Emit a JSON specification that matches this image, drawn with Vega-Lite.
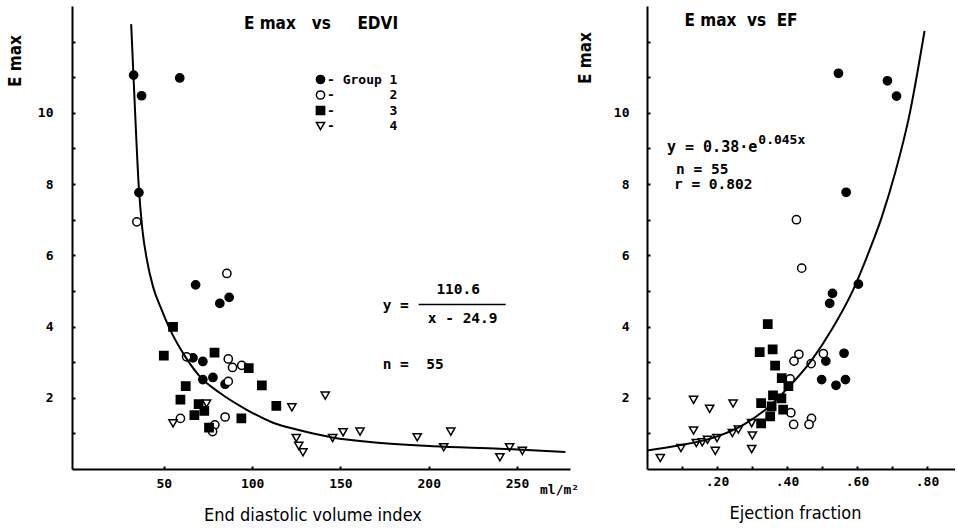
{
  "$schema": "https://vega.github.io/schema/vega-lite/v6.json",
  "background": "white",
  "padding": {"left": 6, "top": 6, "right": 0, "bottom": 0},
  "bounds": "flush",
  "spacing": 77,
  "config": {
    "view": {"stroke": null},
    "axis": {
      "domainColor": "black", "domainWidth": 2, "tickColor": "black", "tickWidth": 2, "tickSize": -3,
      "grid": false, "labelFont": "DejaVu Sans Mono", "labelFontWeight": "bold", "labelFontSize": 13,
      "labelColor": "black", "titleFont": "DejaVu Sans Condensed, sans-serif",
      "titleFontSize": 17, "titleColor": "black", "titleFontWeight": "bold"
    },
    "legend": {
      "orient": "none", "legendX": 242, "legendY": 67, "title": null, "padding": 0,
      "labelFont": "DejaVu Sans Mono", "labelFontWeight": "bold", "labelFontSize": 13, "labelColor": "black",
      "symbolStrokeWidth": 1.5, "symbolSize": 68, "rowPadding": 0.5, "labelOffset": 0
    },
    "text": {"font": "DejaVu Sans Mono", "fontWeight": "bold", "fontSize": 14.5, "color": "black", "align": "left", "baseline": "middle"}
  },
  "datasets": {
    "edvi": [
      {"group": "1", "edvi": 32.9, "emax": 11.06}, {"group": "1", "edvi": 59, "emax": 10.98}, {"group": "1", "edvi": 37.4, "emax": 10.48},
      {"group": "1", "edvi": 35.9, "emax": 7.76}, {"group": "1", "edvi": 68, "emax": 5.17}, {"group": "1", "edvi": 81.7, "emax": 4.65},
      {"group": "1", "edvi": 87, "emax": 4.82}, {"group": "1", "edvi": 66.5, "emax": 3.12}, {"group": "1", "edvi": 72.1, "emax": 3.02},
      {"group": "1", "edvi": 72.1, "emax": 2.51}, {"group": "1", "edvi": 77.8, "emax": 2.57}, {"group": "1", "edvi": 84.7, "emax": 2.38},
      {"group": "2", "edvi": 34.7, "emax": 6.94}, {"group": "2", "edvi": 85.7, "emax": 5.49}, {"group": "2", "edvi": 62.9, "emax": 3.15},
      {"group": "2", "edvi": 86.5, "emax": 3.09}, {"group": "2", "edvi": 88.9, "emax": 2.85}, {"group": "2", "edvi": 94.1, "emax": 2.91},
      {"group": "2", "edvi": 86.5, "emax": 2.46}, {"group": "2", "edvi": 59.4, "emax": 1.42}, {"group": "2", "edvi": 84.7, "emax": 1.46},
      {"group": "2", "edvi": 78.9, "emax": 1.24}, {"group": "2", "edvi": 77.6, "emax": 1.05},
      {"group": "3", "edvi": 55.2, "emax": 3.99}, {"group": "3", "edvi": 50, "emax": 3.18}, {"group": "3", "edvi": 78.7, "emax": 3.27},
      {"group": "3", "edvi": 98.1, "emax": 2.83}, {"group": "3", "edvi": 62.4, "emax": 2.33}, {"group": "3", "edvi": 105.5, "emax": 2.35},
      {"group": "3", "edvi": 59.4, "emax": 1.95}, {"group": "3", "edvi": 113.7, "emax": 1.77}, {"group": "3", "edvi": 69.7, "emax": 1.82},
      {"group": "3", "edvi": 72.9, "emax": 1.63}, {"group": "3", "edvi": 67.3, "emax": 1.51}, {"group": "3", "edvi": 93.9, "emax": 1.42},
      {"group": "3", "edvi": 75.6, "emax": 1.16},
      {"group": "4", "edvi": 55.2, "emax": 1.28}, {"group": "4", "edvi": 74.2, "emax": 1.84}, {"group": "4", "edvi": 122.5, "emax": 1.73},
      {"group": "4", "edvi": 141.4, "emax": 2.06}, {"group": "4", "edvi": 125, "emax": 0.87}, {"group": "4", "edvi": 126.4, "emax": 0.65},
      {"group": "4", "edvi": 128.8, "emax": 0.47}, {"group": "4", "edvi": 145.6, "emax": 0.87}, {"group": "4", "edvi": 151.5, "emax": 1.03},
      {"group": "4", "edvi": 161.1, "emax": 1.05}, {"group": "4", "edvi": 193.5, "emax": 0.89}, {"group": "4", "edvi": 212.5, "emax": 1.05},
      {"group": "4", "edvi": 208.5, "emax": 0.61}, {"group": "4", "edvi": 240.3, "emax": 0.33}, {"group": "4", "edvi": 245.8, "emax": 0.61},
      {"group": "4", "edvi": 253, "emax": 0.51}
    ],
    "ef": [
      {"group": "1", "ef": 0.547, "emax": 11.11}, {"group": "1", "ef": 0.687, "emax": 10.9}, {"group": "1", "ef": 0.713, "emax": 10.47},
      {"group": "1", "ef": 0.569, "emax": 7.77}, {"group": "1", "ef": 0.604, "emax": 5.19}, {"group": "1", "ef": 0.53, "emax": 4.93},
      {"group": "1", "ef": 0.522, "emax": 4.65}, {"group": "1", "ef": 0.563, "emax": 3.25}, {"group": "1", "ef": 0.511, "emax": 3.03},
      {"group": "1", "ef": 0.499, "emax": 2.51}, {"group": "1", "ef": 0.567, "emax": 2.51}, {"group": "1", "ef": 0.54, "emax": 2.35},
      {"group": "2", "ef": 0.427, "emax": 7.0}, {"group": "2", "ef": 0.442, "emax": 5.64}, {"group": "2", "ef": 0.434, "emax": 3.22},
      {"group": "2", "ef": 0.42, "emax": 3.03}, {"group": "2", "ef": 0.504, "emax": 3.24}, {"group": "2", "ef": 0.469, "emax": 2.96},
      {"group": "2", "ef": 0.409, "emax": 2.53}, {"group": "2", "ef": 0.411, "emax": 1.58}, {"group": "2", "ef": 0.419, "emax": 1.25},
      {"group": "2", "ef": 0.47, "emax": 1.42}, {"group": "2", "ef": 0.463, "emax": 1.25},
      {"group": "3", "ef": 0.345, "emax": 4.07}, {"group": "3", "ef": 0.322, "emax": 3.28}, {"group": "3", "ef": 0.359, "emax": 3.36},
      {"group": "3", "ef": 0.366, "emax": 2.9}, {"group": "3", "ef": 0.385, "emax": 2.55}, {"group": "3", "ef": 0.404, "emax": 2.33},
      {"group": "3", "ef": 0.36, "emax": 2.07}, {"group": "3", "ef": 0.384, "emax": 1.98}, {"group": "3", "ef": 0.326, "emax": 1.85},
      {"group": "3", "ef": 0.356, "emax": 1.76}, {"group": "3", "ef": 0.389, "emax": 1.67}, {"group": "3", "ef": 0.352, "emax": 1.48},
      {"group": "3", "ef": 0.326, "emax": 1.28},
      {"group": "4", "ef": 0.038, "emax": 0.31}, {"group": "4", "ef": 0.097, "emax": 0.59}, {"group": "4", "ef": 0.133, "emax": 1.94},
      {"group": "4", "ef": 0.179, "emax": 1.69}, {"group": "4", "ef": 0.246, "emax": 1.84}, {"group": "4", "ef": 0.133, "emax": 1.08},
      {"group": "4", "ef": 0.141, "emax": 0.73}, {"group": "4", "ef": 0.158, "emax": 0.75}, {"group": "4", "ef": 0.173, "emax": 0.82},
      {"group": "4", "ef": 0.2, "emax": 0.87}, {"group": "4", "ef": 0.195, "emax": 0.51}, {"group": "4", "ef": 0.244, "emax": 1.01},
      {"group": "4", "ef": 0.261, "emax": 1.11}, {"group": "4", "ef": 0.299, "emax": 1.29}, {"group": "4", "ef": 0.301, "emax": 0.94},
      {"group": "4", "ef": 0.299, "emax": 0.56}
    ],
    "edviFit": [
      {"edvi": 31.5, "emax": 12.49}, {"edvi": 33.4, "emax": 10.38}, {"edvi": 35.8, "emax": 7.94}, {"edvi": 37.8, "emax": 6.75},
      {"edvi": 40.5, "emax": 5.85}, {"edvi": 44, "emax": 5.1}, {"edvi": 48.5, "emax": 4.5}, {"edvi": 53.2, "emax": 3.95},
      {"edvi": 60.8, "emax": 3.26}, {"edvi": 70.2, "emax": 2.61}, {"edvi": 81.6, "emax": 2.14}, {"edvi": 96.7, "emax": 1.67},
      {"edvi": 111.8, "emax": 1.3}, {"edvi": 125.8, "emax": 1.1}, {"edvi": 146.2, "emax": 0.88}, {"edvi": 166.6, "emax": 0.76},
      {"edvi": 202.4, "emax": 0.64}, {"edvi": 240.2, "emax": 0.57}, {"edvi": 277.4, "emax": 0.48}
    ],
    "efFit": [
      {"ef": 0.0, "emax": 0.52}, {"ef": 0.09, "emax": 0.66}, {"ef": 0.19, "emax": 0.88}, {"ef": 0.28, "emax": 1.27},
      {"ef": 0.34, "emax": 1.68}, {"ef": 0.4, "emax": 2.25}, {"ef": 0.47, "emax": 3.05}, {"ef": 0.53, "emax": 3.95},
      {"ef": 0.59, "emax": 5.05}, {"ef": 0.63, "emax": 6.0}, {"ef": 0.67, "emax": 7.05}, {"ef": 0.71, "emax": 8.35},
      {"ef": 0.75, "emax": 9.95}, {"ef": 0.793, "emax": 12.3}
    ]
  },
  "resolve": {"scale": {"shape": "independent", "fill": "independent", "stroke": "independent"}},
  "hconcat": [
    {
      "width": 498,
      "height": 463,
      "title": {"text": "E max\u00a0\u00a0\u00a0vs\u00a0\u00a0\u00a0\u00a0\u00a0EDVI", "font": "DejaVu Sans Condensed, sans-serif", "fontSize": 17, "fontWeight": "bold", "color": "black", "anchor": "middle", "frame": "group", "baseline": "middle", "offset": 0, "dy": 34.5, "dx": 0},
      "layer": [
        {
          "data": {"name": "edvi"},
          "mark": {"type": "point", "filled": true, "strokeWidth": 1.5, "opacity": 1, "size": 68},
          "encoding": {
            "x": {"field": "edvi", "type": "quantitative", "scale": {"domain": [-2, 280], "nice": false, "zero": false},
              "axis": {"values": [50, 100, 150, 200, 250], "format": "d", "labelPadding": 11, "title": "End diastolic volume index", "titleX": 240.5, "titleY": 46.5, "titleAlign": "center", "titleBaseline": "middle", "titleFontWeight": "normal", "titleFontSize": 18}},
            "y": {"field": "emax", "type": "quantitative", "scale": {"domain": [0, 13], "nice": false, "zero": false},
              "axis": {"values": [1, 2, 3, 4, 5, 6, 7, 8, 9, 10, 11, 12], "labelExpr": "(datum.value % 2 == 0 && datum.value <= 10) ? datum.label : ''", "labelPadding": 22, "title": "E max", "titleX": -57, "titleY": 80.5, "titleAngle": 270, "titleAlign": "left", "titleBaseline": "middle"}},
            "shape": {"field": "group", "type": "nominal", "scale": {"domain": ["1", "2", "3", "4"], "range": ["circle", "circle", "square", "triangle-down"]},
              "legend": {"labelExpr": "datum.label == '1' ? '- Group 1' : '-\u00a0\u00a0\u00a0\u00a0\u00a0\u00a0\u00a0' + datum.label"}},
            "fill": {"field": "group", "type": "nominal", "scale": {"domain": ["1", "2", "3", "4"], "range": ["black", "white", "black", "white"]},
              "legend": {"labelExpr": "datum.label == '1' ? '- Group 1' : '-\u00a0\u00a0\u00a0\u00a0\u00a0\u00a0\u00a0' + datum.label"}},
            "stroke": {"field": "group", "type": "nominal", "scale": {"domain": ["1", "2", "3", "4"], "range": ["black", "black", "black", "black"]},
              "legend": {"labelExpr": "datum.label == '1' ? '- Group 1' : '-\u00a0\u00a0\u00a0\u00a0\u00a0\u00a0\u00a0' + datum.label"}}
          }
        },
        {
          "data": {"name": "edviFit"},
          "mark": {"type": "line", "color": "black", "strokeWidth": 2, "interpolate": "monotone"},
          "encoding": {"x": {"field": "edvi", "type": "quantitative"}, "y": {"field": "emax", "type": "quantitative"}}
        },
        {"data": {"values": [{}]}, "mark": {"type": "text", "text": "y ="}, "encoding": {"x": {"datum": 173.9}, "y": {"datum": 4.57}}},
        {"data": {"values": [{}]}, "mark": {"type": "text", "text": "110.6", "align": "center"}, "encoding": {"x": {"datum": 216.7}, "y": {"datum": 5.02}}},
        {"data": {"values": [{}]}, "mark": {"type": "rule", "color": "black", "strokeWidth": 1.5}, "encoding": {"x": {"datum": 194.3}, "x2": {"datum": 243.6}, "y": {"datum": 4.62}}},
        {"data": {"values": [{}]}, "mark": {"type": "text", "text": "x - 24.9", "align": "center"}, "encoding": {"x": {"datum": 219.2}, "y": {"datum": 4.2}}},
        {"data": {"values": [{}]}, "mark": {"type": "text", "text": "n =\u00a0\u00a055"}, "encoding": {"x": {"datum": 173.9}, "y": {"datum": 2.92}}},
        {"data": {"values": [{}]}, "mark": {"type": "text", "text": "ml/m\u00b2", "fontSize": 13}, "encoding": {"x": {"datum": 263}, "y": {"datum": -0.58}}}
      ]
    },
    {
      "width": 308,
      "height": 463,
      "title": {"text": "E max\u00a0\u00a0vs\u00a0\u00a0EF", "font": "DejaVu Sans Condensed, sans-serif", "fontSize": 17, "fontWeight": "bold", "color": "black", "anchor": "middle", "frame": "group", "baseline": "middle", "offset": 0, "dy": 32, "dx": -60},
      "layer": [
        {
          "data": {"name": "ef"},
          "mark": {"type": "point", "filled": true, "strokeWidth": 1.5, "opacity": 1, "size": 68},
          "encoding": {
            "x": {"field": "ef", "type": "quantitative", "scale": {"domain": [0, 0.88], "nice": false, "zero": false},
              "axis": {"values": [0.1, 0.2, 0.3, 0.4, 0.5, 0.6, 0.7, 0.8], "labelExpr": "(datum.value == 0.2 || datum.value == 0.4 || datum.value == 0.6 || datum.value == 0.8) ? replace(format(datum.value, '.2f'), '0.', '.') : ''", "labelPadding": 9, "title": "Ejection fraction", "titleX": 148, "titleY": 44, "titleAlign": "center", "titleBaseline": "middle", "titleFontWeight": "normal", "titleFontSize": 18}},
            "y": {"field": "emax", "type": "quantitative", "scale": {"domain": [0, 13], "nice": false, "zero": false},
              "axis": {"values": [1, 2, 3, 4, 5, 6, 7, 8, 9, 10, 11, 12], "labelExpr": "(datum.value % 2 == 0 && datum.value <= 10) ? datum.label : ''", "labelPadding": 21, "title": "E max", "titleX": -62, "titleY": 77.5, "titleAngle": 270, "titleAlign": "left", "titleBaseline": "middle"}},
            "shape": {"field": "group", "type": "nominal", "scale": {"domain": ["1", "2", "3", "4"], "range": ["circle", "circle", "square", "triangle-down"]}, "legend": null},
            "fill": {"field": "group", "type": "nominal", "scale": {"domain": ["1", "2", "3", "4"], "range": ["black", "white", "black", "white"]}, "legend": null},
            "stroke": {"field": "group", "type": "nominal", "scale": {"domain": ["1", "2", "3", "4"], "range": ["black", "black", "black", "black"]}, "legend": null}
          }
        },
        {
          "data": {"name": "efFit"},
          "mark": {"type": "line", "color": "black", "strokeWidth": 2, "interpolate": "monotone"},
          "encoding": {"x": {"field": "ef", "type": "quantitative"}, "y": {"field": "emax", "type": "quantitative"}}
        },
        {"data": {"values": [{}]}, "mark": {"type": "text", "text": "y = 0.38\u00b7e", "fontSize": 15}, "encoding": {"x": {"datum": 0.057}, "y": {"datum": 9.03}}},
        {"data": {"values": [{}]}, "mark": {"type": "text", "text": "0.045x", "fontSize": 13}, "encoding": {"x": {"datum": 0.318}, "y": {"datum": 9.23}}},
        {"data": {"values": [{}]}, "mark": {"type": "text", "text": "n = 55", "fontSize": 14.5}, "encoding": {"x": {"datum": 0.083}, "y": {"datum": 8.4}}},
        {"data": {"values": [{}]}, "mark": {"type": "text", "text": "r = 0.802", "fontSize": 14.5}, "encoding": {"x": {"datum": 0.077}, "y": {"datum": 7.97}}}
      ]
    }
  ]
}
